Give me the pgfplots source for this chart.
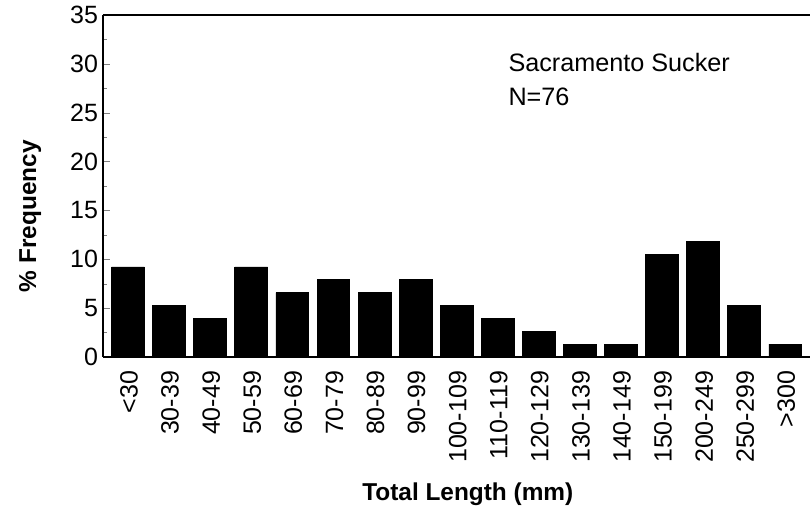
\documentclass[border=0pt]{standalone}
\usepackage{fontspec}
\setmainfont{Liberation Sans}
\usepackage{pgfplots}
\pgfplotsset{compat=1.18}
\begin{document}
\begin{tikzpicture}
\begin{axis}[
  name=ax,
  scale only axis,
  width=353.5pt, height=171pt,
  xmin=-0.61, xmax=16.6,
  ymin=0, ymax=35,
  axis x line=box, axis y line=left,
  axis line style={-, line width=1pt},
  ytick={0,5,...,35},
  minor y tick num=1,
  tick align=inside,
  major tick length=3.5pt, minor tick length=2pt,
  xtick=data,
  xticklabels={<30,30-39,40-49,50-59,60-69,70-79,80-89,90-99,100-109,110-119,120-129,130-139,140-149,150-199,200-249,250-299,>300},
  xtick style={draw=none},
  xticklabel style={rotate=90, anchor=east, yshift=-0.5pt, font=\fontsize{12.5}{14}\selectfont},
  yticklabel style={font=\fontsize{12.5}{14}\selectfont, xshift=1pt},
  /pgf/number format/assume math mode=true,
  ybar, bar width=0.8,
  xlabel={\textbf{Total Length (mm)}},
  ylabel={\textbf{\% Frequency}},
  label style={font=\fontsize{12.2}{14}\selectfont},
  xlabel style={at={(axis description cs:0.516,-0.40)}, anchor=center},
  ylabel style={at={(axis description cs:-0.103,0.412)}, anchor=center},
]
\addplot[fill=black, draw=black] coordinates {
(0,9.21) (1,5.26) (2,3.95) (3,9.21) (4,6.58) (5,7.89) (6,6.58) (7,7.89)
(8,5.26) (9,3.95) (10,2.63) (11,1.32) (12,1.32) (13,10.53) (14,11.84) (15,5.26) (16,1.32)
};
\node[anchor=base west, inner sep=0pt, font=\fontsize{12.6}{14}\selectfont] at (axis description cs:0.573,0.836) {Sacramento Sucker};
\node[anchor=base west, inner sep=0pt, font=\fontsize{12.6}{14}\selectfont] at (axis description cs:0.573,0.734) {N=76};
\end{axis}
\pgfresetboundingbox
\useasboundingbox (ax.south west) ++(-51.5pt,-74.5pt) rectangle ++(405.5pt,253pt);
\end{tikzpicture}
\end{document}
